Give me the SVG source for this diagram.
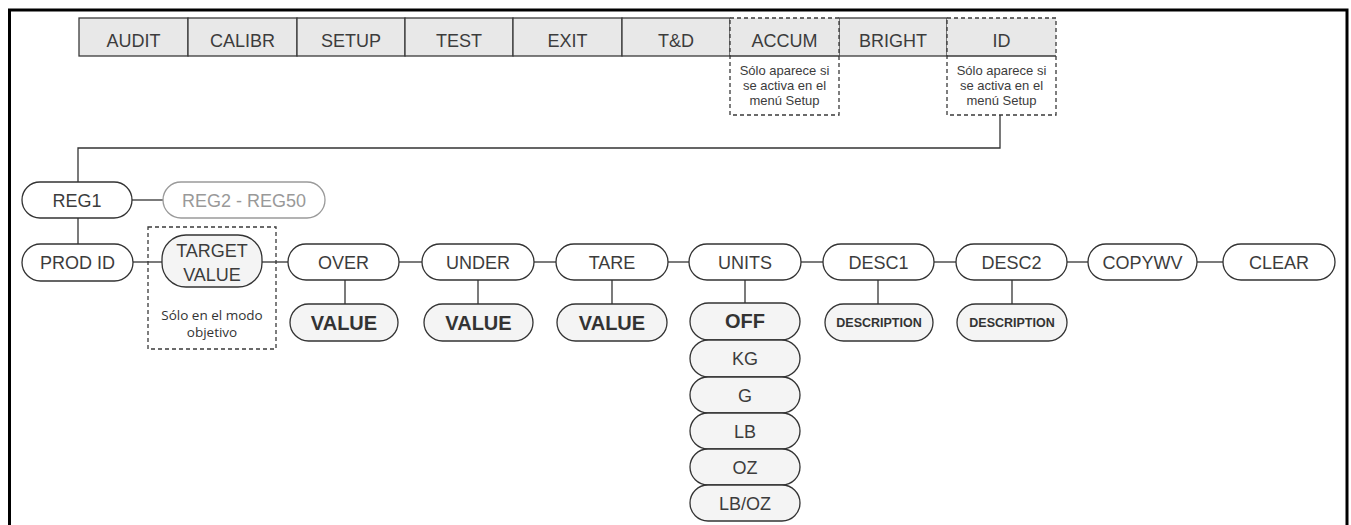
<svg xmlns="http://www.w3.org/2000/svg" width="1351" height="525" viewBox="0 0 1351 525">
<style>
.cell{fill:#e8e8e8;stroke:#3a3a3a;stroke-width:1.3}
.cellnd{fill:#e8e8e8;stroke:none}
.dash{fill:none;stroke:#3a3a3a;stroke-width:1.3;stroke-dasharray:4 3}
.pill{fill:#fff;stroke:#333;stroke-width:1.3}
.pillg{fill:#f4f4f4;stroke:#333;stroke-width:1.3}
.pillx{fill:#fff;stroke:#9a9a9a;stroke-width:1.3}
.t{font-family:"Liberation Sans",Arial,sans-serif;font-size:18px;fill:#3c3c3c;text-anchor:middle}
.tx{font-family:"Liberation Sans",Arial,sans-serif;font-size:18px;fill:#999;text-anchor:middle}
.b{font-family:"Liberation Sans",Arial,sans-serif;font-size:20px;font-weight:bold;fill:#333;text-anchor:middle}
.bs{font-family:"Liberation Sans",Arial,sans-serif;font-size:12.5px;font-weight:bold;fill:#333;text-anchor:middle}
.n{font-family:"Liberation Sans",Arial,sans-serif;font-size:13px;fill:#3c3c3c;text-anchor:middle}
.o{font-family:"Open Sans","Liberation Sans",sans-serif;font-size:13.5px;fill:#333;text-anchor:middle}
.c{fill:none;stroke:#333;stroke-width:1.3}
</style>
<path d="M9.5,525 V10 H1347 V525" fill="none" stroke="#000" stroke-width="3"/>

<g id="menubar">
<g id="audit"><rect class="cell" x="79" y="18" width="109" height="38"/><text class="t" x="133.5" y="47">AUDIT</text></g>
<g id="calibr"><rect class="cell" x="188" y="18" width="109" height="38"/><text class="t" x="242.5" y="47">CALIBR</text></g>
<g id="setup"><rect class="cell" x="297" y="18" width="108" height="38"/><text class="t" x="351" y="47">SETUP</text></g>
<g id="test"><rect class="cell" x="405" y="18" width="108" height="38"/><text class="t" x="459" y="47">TEST</text></g>
<g id="exit"><rect class="cell" x="513" y="18" width="109" height="38"/><text class="t" x="567.5" y="47">EXIT</text></g>
<g id="td"><rect class="cell" x="622" y="18" width="108" height="38"/><text class="t" x="676" y="47">T&amp;D</text></g>
<g id="bright"><rect class="cell" x="839" y="18" width="108" height="38"/><text class="t" x="893" y="47">BRIGHT</text></g>
<g id="accum">
<rect class="cellnd" x="730" y="18" width="109" height="38"/>
<rect class="dash" x="730" y="18" width="109" height="97"/>
<line x1="730" y1="56" x2="839" y2="56" stroke="#3a3a3a" stroke-width="1.3"/>
<text class="t" x="784.5" y="47">ACCUM</text>
<text class="n" x="784.5" y="75">Sólo aparece si</text>
<text class="n" x="784.5" y="90">se activa en el</text>
<text class="n" x="784.5" y="105">menú Setup</text>
</g>
<g id="id">
<rect class="cellnd" x="947" y="18" width="109" height="38"/>
<rect class="dash" x="947" y="18" width="109" height="97"/>
<line x1="947" y1="56" x2="1056" y2="56" stroke="#3a3a3a" stroke-width="1.3"/>
<text class="t" x="1001.5" y="47">ID</text>
<text class="n" x="1001.5" y="75">Sólo aparece si</text>
<text class="n" x="1001.5" y="90">se activa en el</text>
<text class="n" x="1001.5" y="105">menú Setup</text>
</g>
</g>

<g id="connectors">
<path class="c" d="M1000,115 V148 H78 V182"/>
<line class="c" x1="132" y1="200" x2="163" y2="200"/>
<line class="c" x1="78" y1="218" x2="78" y2="244"/>
<line class="c" x1="133" y1="262" x2="162" y2="262"/>
<line class="c" x1="262" y1="262" x2="288" y2="262"/>
<line class="c" x1="399" y1="262" x2="422" y2="262"/>
<line class="c" x1="534" y1="262" x2="556" y2="262"/>
<line class="c" x1="668" y1="262" x2="689" y2="262"/>
<line class="c" x1="801" y1="262" x2="823" y2="262"/>
<line class="c" x1="934" y1="262" x2="956" y2="262"/>
<line class="c" x1="1067" y1="262" x2="1088" y2="262"/>
<line class="c" x1="1197" y1="262" x2="1223" y2="262"/>
<line class="c" x1="345" y1="280" x2="345" y2="304"/>
<line class="c" x1="478" y1="280" x2="478" y2="304"/>
<line class="c" x1="612" y1="280" x2="612" y2="304"/>
<line class="c" x1="745" y1="280" x2="745" y2="303"/>
<line class="c" x1="878" y1="280" x2="878" y2="304"/>
<line class="c" x1="1012" y1="280" x2="1012" y2="304"/>
</g>

<g id="reg1"><rect class="pill" x="22" y="182" width="110" height="36" rx="18"/><text class="t" x="77" y="206.5">REG1</text></g>
<g id="reg2-reg50"><rect class="pillx" x="163" y="182" width="162" height="36" rx="18"/><text class="tx" x="244" y="206.5">REG2 - REG50</text></g>

<g id="prodid"><rect class="pill" x="22" y="244" width="111" height="37" rx="18.5"/><text class="t" x="77.5" y="269">PROD ID</text></g>
<g id="target">
<rect class="dash" x="148" y="227" width="128" height="122"/>
<rect class="pillg" x="162" y="235" width="100" height="52" rx="24"/>
<text class="t" x="212" y="257">TARGET</text>
<text class="t" x="212" y="281">VALUE</text>
<text class="o" x="212" y="320">Sólo en el modo</text>
<text class="o" x="212" y="337">objetivo</text>
</g>
<g id="over"><rect class="pill" x="288" y="244" width="111" height="36" rx="18"/><text class="t" x="343.5" y="268.5">OVER</text></g>
<g id="under"><rect class="pill" x="422" y="244" width="112" height="36" rx="18"/><text class="t" x="478" y="268.5">UNDER</text></g>
<g id="tare"><rect class="pill" x="556" y="244" width="112" height="36" rx="18"/><text class="t" x="612" y="268.5">TARE</text></g>
<g id="units"><rect class="pill" x="689" y="244" width="112" height="36" rx="18"/><text class="t" x="745" y="268.5">UNITS</text></g>
<g id="desc1"><rect class="pill" x="823" y="244" width="111" height="36" rx="18"/><text class="t" x="878.5" y="268.5">DESC1</text></g>
<g id="desc2"><rect class="pill" x="956" y="244" width="111" height="36" rx="18"/><text class="t" x="1011.5" y="268.5">DESC2</text></g>
<g id="copywv"><rect class="pill" x="1088" y="244" width="109" height="36" rx="18"/><text class="t" x="1142.5" y="268.5">COPYWV</text></g>
<g id="clear"><rect class="pill" x="1223" y="244" width="112" height="36" rx="18"/><text class="t" x="1279" y="268.5">CLEAR</text></g>

<g id="over-value"><rect class="pillg" x="290" y="304" width="108" height="37" rx="18.5"/><text class="b" x="344" y="329.5">VALUE</text></g>
<g id="under-value"><rect class="pillg" x="424" y="304" width="109" height="37" rx="18.5"/><text class="b" x="478.5" y="329.5">VALUE</text></g>
<g id="tare-value"><rect class="pillg" x="557" y="304" width="110" height="37" rx="18.5"/><text class="b" x="612" y="329.5">VALUE</text></g>
<g id="desc1-description"><rect class="pillg" x="825" y="304" width="108" height="37" rx="18.5"/><text class="bs" x="879" y="327">DESCRIPTION</text></g>
<g id="desc2-description"><rect class="pillg" x="957" y="304" width="110" height="37" rx="18.5"/><text class="bs" x="1012" y="327">DESCRIPTION</text></g>

<g id="units-off"><rect class="pillg" x="690" y="303" width="110" height="37" rx="18.5"/><text class="b" x="745" y="328">OFF</text></g>
<g id="units-kg"><rect class="pillg" x="690" y="340" width="110" height="37" rx="18.5"/><text class="t" x="745" y="365">KG</text></g>
<g id="units-g"><rect class="pillg" x="690" y="377" width="110" height="36" rx="18"/><text class="t" x="745" y="401.5">G</text></g>
<g id="units-lb"><rect class="pillg" x="690" y="413" width="110" height="36" rx="18"/><text class="t" x="745" y="437.5">LB</text></g>
<g id="units-oz"><rect class="pillg" x="690" y="449" width="110" height="36" rx="18"/><text class="t" x="745" y="473.5">OZ</text></g>
<g id="units-lboz"><rect class="pillg" x="690" y="485" width="110" height="36" rx="18"/><text class="t" x="745" y="509.5">LB/OZ</text></g>
</svg>
